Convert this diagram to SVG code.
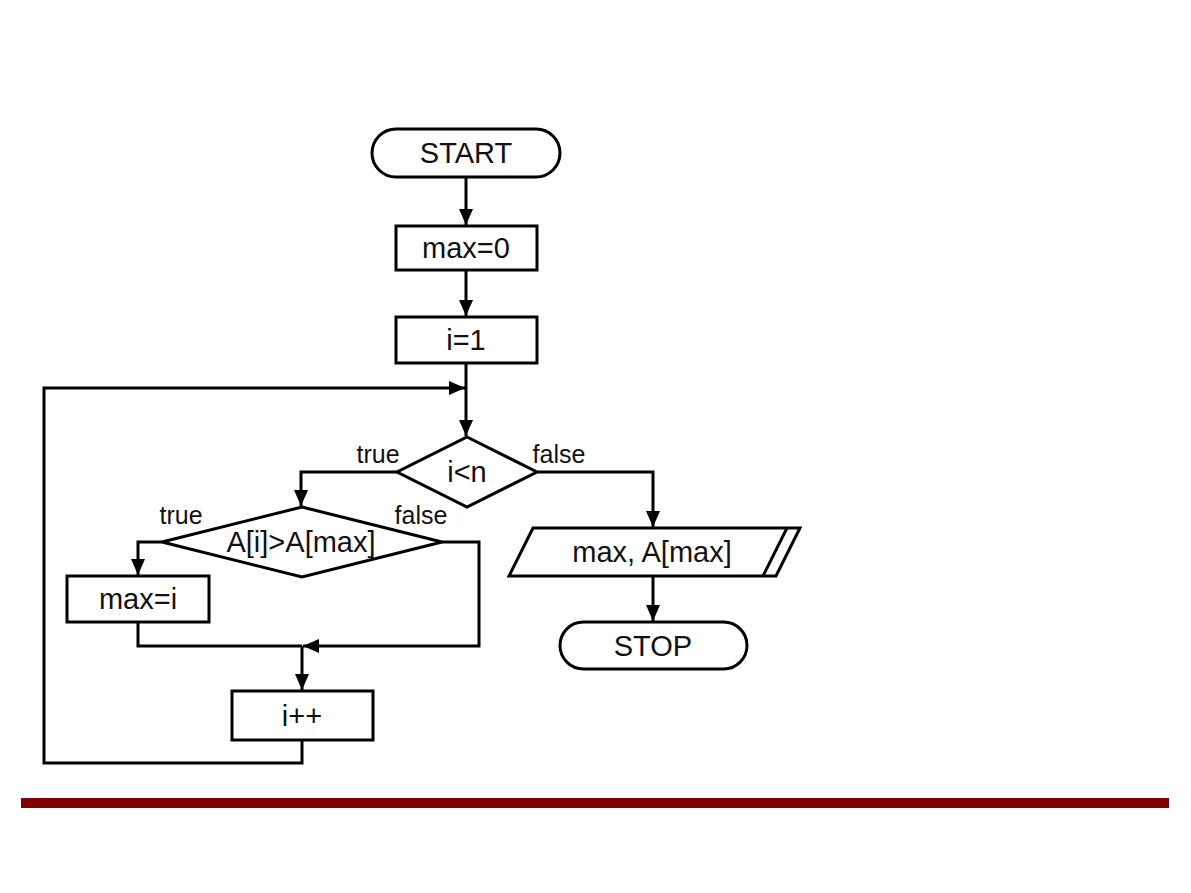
<svg xmlns="http://www.w3.org/2000/svg" width="1191" height="893" viewBox="0 0 1191 893">
<style>
.s{fill:#fff;stroke:#000;stroke-width:3;stroke-linejoin:miter}
.t{font-family:"Liberation Sans",Arial,sans-serif;font-size:29px;fill:#111;text-anchor:middle}
.l{font-family:"Liberation Sans",Arial,sans-serif;font-size:25px;fill:#111;text-anchor:middle}
.c{fill:none;stroke:#000;stroke-width:3}
</style>
<defs>
<marker id="a" markerWidth="16" markerHeight="14" refX="16" refY="7" orient="auto" markerUnits="userSpaceOnUse">
<path d="M0,0 L16,7 L0,14 Z" fill="#000"/>
</marker>
</defs>
<rect width="1191" height="893" fill="#fff"/>
<g id="connectors">
<path class="c" d="M466,177 V225" marker-end="url(#a)"/>
<path class="c" d="M466,270 V316" marker-end="url(#a)"/>
<path class="c" d="M466,363 V436" marker-end="url(#a)"/>
<path class="c" d="M397,472 H301 V506" marker-end="url(#a)"/>
<path class="c" d="M537,472 H653 V527" marker-end="url(#a)"/>
<path class="c" d="M162,542 H138 V575" marker-end="url(#a)"/>
<path class="c" d="M138,622 V646 H302"/>
<path class="c" d="M442,542 H479 V646 H303" marker-end="url(#a)"/>
<path class="c" d="M302,646 V690" marker-end="url(#a)"/>
<path class="c" d="M302,740 V763 H44 V388 H465" marker-end="url(#a)"/>
<path class="c" d="M653,576 V621" marker-end="url(#a)"/>
</g>
<g id="start">
<rect class="s" x="372" y="129" width="188" height="48" rx="24"/>
<text class="t" x="466" y="163">START</text>
</g>
<g id="max0">
<rect class="s" x="396" y="226" width="141" height="44"/>
<text class="t" x="466" y="258">max=0</text>
</g>
<g id="i1">
<rect class="s" x="396" y="317" width="141" height="46"/>
<text class="t" x="466" y="350">i=1</text>
</g>
<g id="cond1">
<polygon class="s" points="467,437 537,472 467,507 397,472"/>
<text class="t" x="467" y="482">i&lt;n</text>
<text class="l" x="378" y="463">true</text>
<text class="l" x="559" y="463">false</text>
</g>
<g id="cond2">
<polygon class="s" points="302,507 442,542 302,577 162,542"/>
<text class="t" x="301" y="552">A[i]&gt;A[max]</text>
<text class="l" x="181" y="524">true</text>
<text class="l" x="421" y="524">false</text>
</g>
<g id="maxi">
<rect class="s" x="67" y="576" width="142" height="46"/>
<text class="t" x="138" y="609">max=i</text>
</g>
<g id="iinc">
<rect class="s" x="232" y="691" width="141" height="49"/>
<text class="t" x="302" y="726">i++</text>
</g>
<g id="output">
<polygon class="s" points="533,528 800,528 776,576 509,576"/>
<line class="c" x1="787" y1="528" x2="763" y2="576"/>
<text class="t" x="652" y="562">max, A[max]</text>
</g>
<g id="stop">
<rect class="s" x="560" y="622" width="187" height="47" rx="23.5"/>
<text class="t" x="653" y="656">STOP</text>
</g>
<rect x="21" y="798" width="1148" height="10" fill="#800000"/>
</svg>
